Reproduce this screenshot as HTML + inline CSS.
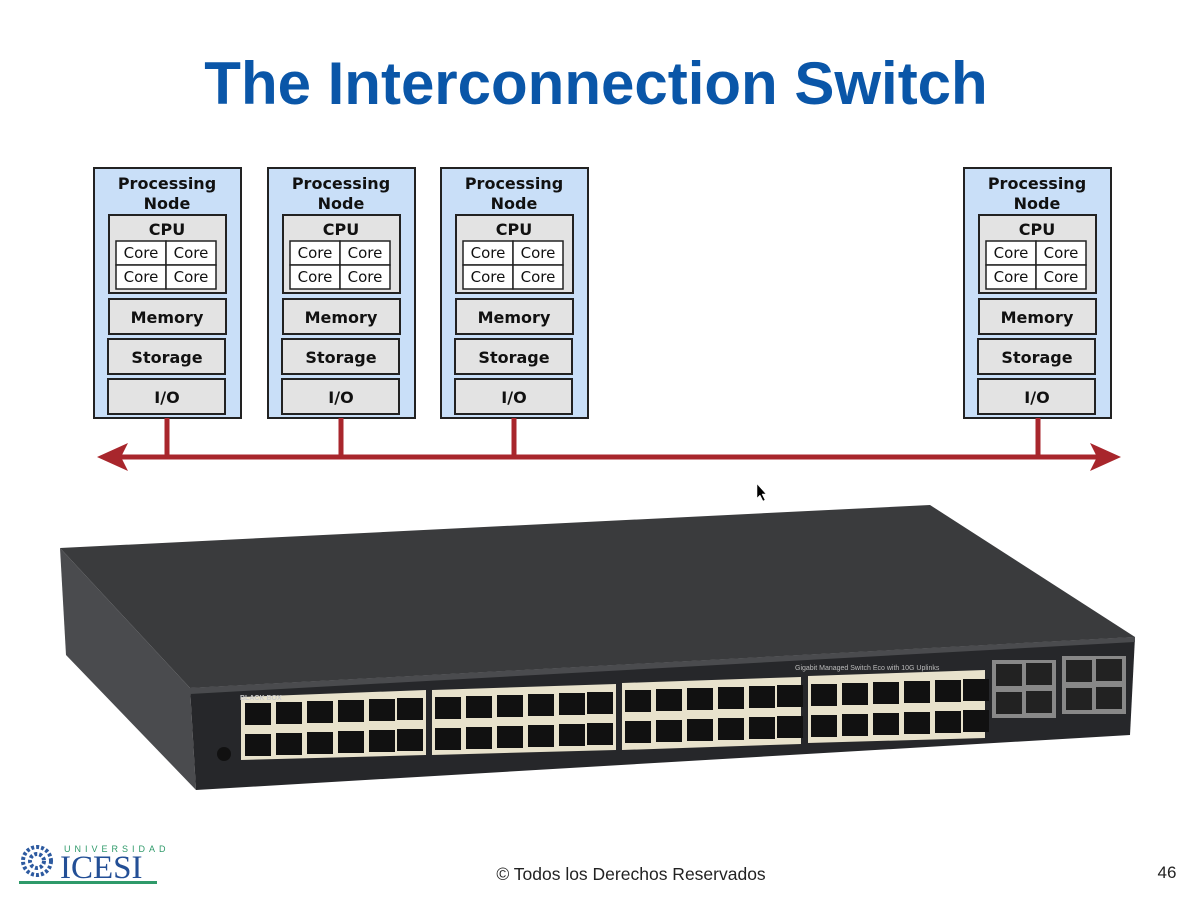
<!DOCTYPE html>
<html><head><meta charset="utf-8"><style>
html,body{margin:0;padding:0;background:#fff;}
body{width:1194px;height:899px;overflow:hidden;position:relative;font-family:"Liberation Sans",sans-serif;}
.t{font-family:"DejaVu Sans",sans-serif;font-weight:bold;font-size:16px;fill:#111;text-anchor:middle;}
.c{font-family:"DejaVu Sans",sans-serif;font-size:15px;fill:#111;text-anchor:middle;}
</style></head><body>
<svg width="1194" height="899" viewBox="0 0 1194 899" style="position:absolute;left:0;top:0">
<text x="596" y="104" text-anchor="middle" font-family="Liberation Sans,sans-serif" font-weight="bold" font-size="60" fill="#0a56a8">The Interconnection Switch</text>
<defs>
<g id="node">
<rect x="0" y="0" width="147" height="250" fill="#c9dff8" stroke="#222" stroke-width="2"/>
<rect x="15" y="47" width="117" height="78" fill="#e3e3e3" stroke="#222" stroke-width="2"/>
<rect x="22" y="73" width="50" height="24" fill="#fff" stroke="#222" stroke-width="1.5"/>
<rect x="72" y="73" width="50" height="24" fill="#fff" stroke="#222" stroke-width="1.5"/>
<rect x="22" y="97" width="50" height="24" fill="#fff" stroke="#222" stroke-width="1.5"/>
<rect x="72" y="97" width="50" height="24" fill="#fff" stroke="#222" stroke-width="1.5"/>
<rect x="15" y="131" width="117" height="35" fill="#e3e3e3" stroke="#222" stroke-width="2"/>
<rect x="14" y="171" width="117" height="35" fill="#e3e3e3" stroke="#222" stroke-width="2"/>
<rect x="14" y="211" width="117" height="35" fill="#e3e3e3" stroke="#222" stroke-width="2"/>
</g>
</defs>
<g transform="translate(94,168)"><use href="#node"/>
<text class="t" x="73" y="21">Processing</text><text class="t" x="73" y="41">Node</text><text class="t" x="73" y="67">CPU</text>
<text class="c" x="47" y="90">Core</text><text class="c" x="97" y="90">Core</text><text class="c" x="47" y="114">Core</text><text class="c" x="97" y="114">Core</text>
<text class="t" x="73" y="155">Memory</text><text class="t" x="73" y="195">Storage</text><text class="t" x="73" y="235">I/O</text></g>
<g transform="translate(268,168)"><use href="#node"/>
<text class="t" x="73" y="21">Processing</text><text class="t" x="73" y="41">Node</text><text class="t" x="73" y="67">CPU</text>
<text class="c" x="47" y="90">Core</text><text class="c" x="97" y="90">Core</text><text class="c" x="47" y="114">Core</text><text class="c" x="97" y="114">Core</text>
<text class="t" x="73" y="155">Memory</text><text class="t" x="73" y="195">Storage</text><text class="t" x="73" y="235">I/O</text></g>
<g transform="translate(441,168)"><use href="#node"/>
<text class="t" x="73" y="21">Processing</text><text class="t" x="73" y="41">Node</text><text class="t" x="73" y="67">CPU</text>
<text class="c" x="47" y="90">Core</text><text class="c" x="97" y="90">Core</text><text class="c" x="47" y="114">Core</text><text class="c" x="97" y="114">Core</text>
<text class="t" x="73" y="155">Memory</text><text class="t" x="73" y="195">Storage</text><text class="t" x="73" y="235">I/O</text></g>
<g transform="translate(964,168)"><use href="#node"/>
<text class="t" x="73" y="21">Processing</text><text class="t" x="73" y="41">Node</text><text class="t" x="73" y="67">CPU</text>
<text class="c" x="47" y="90">Core</text><text class="c" x="97" y="90">Core</text><text class="c" x="47" y="114">Core</text><text class="c" x="97" y="114">Core</text>
<text class="t" x="73" y="155">Memory</text><text class="t" x="73" y="195">Storage</text><text class="t" x="73" y="235">I/O</text></g>
<g stroke="#a8262c" stroke-width="5" fill="none">
<line x1="112" y1="457" x2="1105" y2="457"/>
<line x1="167" y1="418" x2="167" y2="457"/><line x1="341" y1="418" x2="341" y2="457"/>
<line x1="514" y1="418" x2="514" y2="457"/><line x1="1038" y1="418" x2="1038" y2="457"/>
</g>
<polygon points="97,457 128,443 121,457 128,471" fill="#a8262c"/>
<polygon points="1121,457 1090,443 1097,457 1090,471" fill="#a8262c"/>
<path d="M757,484 l0,14 l3,-3 l3,6 l2,-1 l-3,-6 l4,0 z" fill="#000" stroke="#fff" stroke-width="0.5"/>
<!-- switch -->
<polygon points="60,548 930,505 1135,637 190,688" fill="#3a3b3d"/>
<polygon points="60,548 190,688 196,790 66,655" fill="#4a4b4e"/>
<polygon points="190,688 1135,637 1130,735 196,790" fill="#26272a"/>
<polygon points="190,688 1135,637 1135,642 190,694" fill="#4a4b4e"/>
<g fill="#e8e2cc">
<polygon points="241,697 426,690 426,755 241,760"/>
<polygon points="432,690 616,684 616,750 432,755"/>
<polygon points="622,683 801,677 801,744 622,750"/>
<polygon points="808,676 985,670 985,738 808,743"/>
</g>
<g fill="#111">
<g id="row">
<rect x="245" y="703" width="26" height="22"/><rect x="276" y="702" width="26" height="22"/><rect x="307" y="701" width="26" height="22"/><rect x="338" y="700" width="26" height="22"/><rect x="369" y="699" width="26" height="22"/><rect x="397" y="698" width="26" height="22"/>
</g>
<use href="#row" y="31"/>
<use href="#row" x="190" y="-6"/><use href="#row" x="190" y="25"/>
<use href="#row" x="380" y="-13"/><use href="#row" x="380" y="18"/>
<use href="#row" x="566" y="-19"/><use href="#row" x="566" y="12"/>
</g>
<g fill="#888">
<rect x="992" y="660" width="64" height="58"/><rect x="1062" y="656" width="64" height="58"/>
</g>
<g fill="#222">
<rect x="996" y="664" width="26" height="22"/><rect x="1026" y="663" width="26" height="22"/>
<rect x="996" y="692" width="26" height="22"/><rect x="1026" y="691" width="26" height="22"/>
<rect x="1066" y="660" width="26" height="22"/><rect x="1096" y="659" width="26" height="22"/>
<rect x="1066" y="688" width="26" height="22"/><rect x="1096" y="687" width="26" height="22"/>
</g>
<circle cx="224" cy="754" r="7" fill="#111"/>
<text x="240" y="700" font-size="7" fill="#ccc" font-family="Liberation Sans,sans-serif" font-weight="bold">BLACK BOX</text>
<text x="795" y="670" font-size="7" fill="#bbb" font-family="Liberation Sans,sans-serif">Gigabit Managed Switch Eco with 10G Uplinks</text>
<!-- logo -->
<g transform="translate(37,861)" fill="none" stroke="#2d5aa0" stroke-width="4" stroke-dasharray="3 2">
<circle r="14"/><circle r="7"/>
</g>
<text x="64" y="852" font-size="9" letter-spacing="4" fill="#2f9a6a" font-family="Liberation Sans,sans-serif">UNIVERSIDAD</text>
<text x="60" y="878" font-size="33" fill="#234f96" font-family="Liberation Serif,serif">ICESI</text>
<rect x="19" y="881" width="138" height="3" fill="#2f9a6a"/>
<text x="631" y="880" text-anchor="middle" font-size="17.5" fill="#222" font-family="Liberation Sans,sans-serif">© Todos los Derechos Reservados</text>
<text x="1167" y="878" text-anchor="middle" font-size="17" fill="#222" font-family="Liberation Sans,sans-serif">46</text>
</svg>
</body></html>
